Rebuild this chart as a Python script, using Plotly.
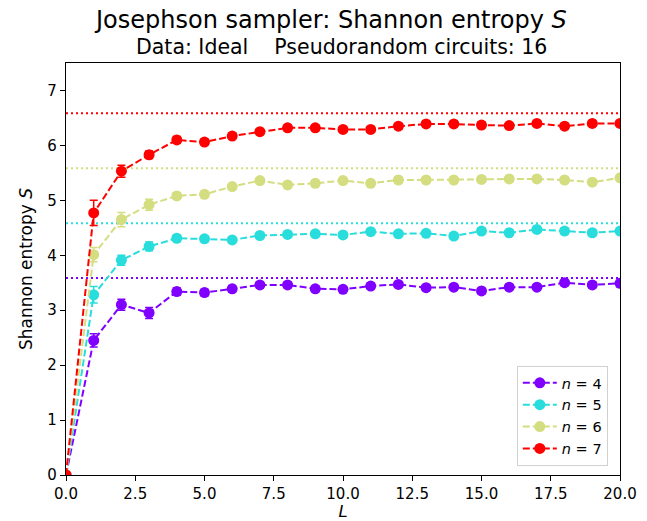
import plotly.graph_objects as go

# Circuit depth L
L = list(range(0, 21))

# Mean Shannon entropy per qubit count n, with standard errors
S_n4 = [0, 2.45, 3.10, 2.95, 3.34, 3.32, 3.39, 3.46, 3.46, 3.39, 3.38, 3.44, 3.47, 3.41, 3.42, 3.35, 3.42, 3.42, 3.50, 3.46, 3.49]
S_n5 = [0, 3.28, 3.91, 4.16, 4.31, 4.30, 4.28, 4.36, 4.38, 4.39, 4.37, 4.43, 4.39, 4.40, 4.35, 4.44, 4.41, 4.47, 4.44, 4.41, 4.44]
S_n6 = [0, 4.01, 4.65, 4.92, 5.08, 5.11, 5.25, 5.36, 5.28, 5.31, 5.36, 5.31, 5.37, 5.37, 5.37, 5.38, 5.39, 5.39, 5.37, 5.33, 5.41]
S_n7 = [0, 4.77, 5.53, 5.83, 6.10, 6.06, 6.17, 6.25, 6.32, 6.32, 6.29, 6.29, 6.35, 6.39, 6.39, 6.37, 6.36, 6.40, 6.35, 6.40, 6.40]

err_n4 = [0, 0.12, 0.10, 0.10, 0.07, 0.06, 0.06, 0.06, 0.05, 0.05, 0.05, 0.05, 0.05, 0.05, 0.05, 0.05, 0.05, 0.05, 0.05, 0.05, 0.05]
err_n5 = [0, 0.15, 0.09, 0.08, 0.06, 0.05, 0.05, 0.05, 0.05, 0.05, 0.05, 0.05, 0.05, 0.05, 0.05, 0.05, 0.05, 0.05, 0.05, 0.05, 0.05]
err_n6 = [0, 0.13, 0.13, 0.10, 0.06, 0.05, 0.05, 0.05, 0.05, 0.05, 0.05, 0.05, 0.05, 0.05, 0.05, 0.05, 0.05, 0.05, 0.05, 0.05, 0.05]
err_n7 = [0, 0.23, 0.11, 0.07, 0.06, 0.05, 0.05, 0.05, 0.05, 0.05, 0.05, 0.05, 0.05, 0.05, 0.05, 0.05, 0.05, 0.05, 0.05, 0.05, 0.05]

# Maximum entropy for each n (dotted reference lines)
S_max = [3.585, 4.585, 5.585, 6.585]

n_values = [4, 5, 6, 7]
colors = ["#8000ff", "#2adddd", "#d4dd80", "#ff0000"]

series = [S_n4, S_n5, S_n6, S_n7]
errors = [err_n4, err_n5, err_n6, err_n7]

FONT = "DejaVu Sans"

fig = go.Figure()

for n, s, e, c, smax in zip(n_values, series, errors, colors, S_max):
    fig.add_trace(go.Scatter(
        x=L, y=s,
        mode="lines+markers",
        name=f"<i>n</i> = {n}",
        line=dict(color=c, width=2, dash="7px,3px"),
        marker=dict(color=c, size=11),
        error_y=dict(type="data", array=e, visible=True,
                     color=c, thickness=1.5, width=4),
    ))
    fig.add_trace(go.Scatter(
        x=[L[0], L[-1]], y=[smax, smax],
        mode="lines",
        line=dict(color=c, width=2, dash="2px,3px"),
        showlegend=False,
        hoverinfo="skip",
    ))

axis_common = dict(
    showline=True, linecolor="black", linewidth=1.2, mirror=True,
    ticks="outside", ticklen=5, tickwidth=1.2, tickcolor="black",
    showgrid=False, zeroline=False, automargin=False,
    tickfont=dict(family=FONT, size=15, color="black"),
)

fig.update_xaxes(
    range=[0, 20], dtick=2.5, tick0=0, tickformat=".1f",
    title=dict(text="<i>L</i>", font=dict(family=FONT, size=16.5, color="black"), standoff=7),
    **axis_common,
)
fig.update_yaxes(
    range=[0, 7.5], dtick=1, tick0=0,
    title=dict(text="Shannon entropy <i>S</i>", font=dict(family=FONT, size=17, color="black"), standoff=10),
    **axis_common,
)

fig.update_layout(
    width=647, height=521,
    margin=dict(l=66, r=27, t=63, b=46),
    paper_bgcolor="white", plot_bgcolor="white",
    font=dict(family=FONT, color="black"),
    showlegend=True,
    legend=dict(
        x=0.978, y=0.022, xanchor="right", yanchor="bottom",
        bgcolor="white", bordercolor="#d0d0d0", borderwidth=1,
        font=dict(family=FONT, size=14.5, color="black"),
        itemwidth=34, tracegroupgap=0,
    ),
    annotations=[
        dict(text="Josephson sampler: Shannon entropy <i>S</i>",
             xref="paper", yref="paper", x=0.478, y=1.104,
             xanchor="center", yanchor="middle", showarrow=False,
             font=dict(family=FONT, size=24, color="black")),
        dict(text="Data: Ideal    Pseudorandom circuits: 16",
             xref="paper", yref="paper", x=0.4964, y=1.040,
             xanchor="center", yanchor="middle", showarrow=False,
             font=dict(family=FONT, size=20.5, color="black")),
    ],
)

fig.write_html("out.html")
